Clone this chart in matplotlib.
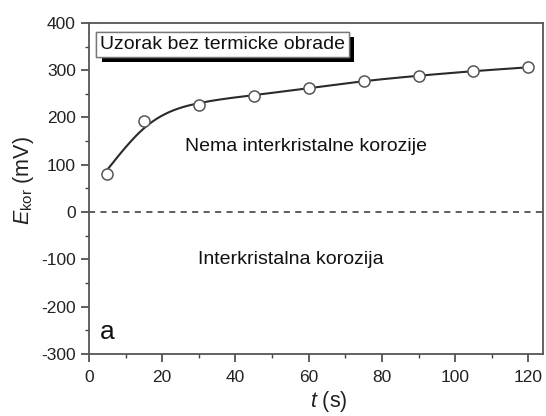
import numpy as np
import matplotlib
matplotlib.use("Agg")
import matplotlib.pyplot as plt
from matplotlib import patheffects as pe

plt.rcParams['font.family'] = ['Liberation Sans', 'DejaVu Sans']
plt.rcParams['axes.unicode_minus'] = False
plt.rcParams['mathtext.fontset'] = 'custom'
plt.rcParams['mathtext.rm'] = 'Liberation Sans'
plt.rcParams['mathtext.it'] = 'Liberation Sans:italic'

t_vals = [5, 15, 30, 45, 60, 75, 90, 105, 120]
e_vals = [80, 192, 226, 246, 262, 277, 288, 298, 306]

box_label = "Uzorak bez termicke obrade"
upper_label = "Nema interkristalne korozije"
lower_label = "Interkristalna korozija"
panel_label = "a"

x = np.array(t_vals, float)
y = np.array(e_vals, float)


def smoothing_spline(xk, yk, lam, num=400):
    n = len(xk)
    h = np.diff(xk)
    Q = np.zeros((n, n - 2))
    R = np.zeros((n - 2, n - 2))
    for j in range(1, n - 1):
        c = j - 1
        Q[j - 1, c] = 1 / h[j - 1]
        Q[j, c] = -1 / h[j - 1] - 1 / h[j]
        Q[j + 1, c] = 1 / h[j]
        R[c, c] = (h[j - 1] + h[j]) / 3
        if c + 1 < n - 2:
            R[c, c + 1] = h[j] / 6
            R[c + 1, c] = h[j] / 6
    K = Q @ np.linalg.solve(R, Q.T)
    g = np.linalg.solve(np.eye(n) + lam * K, yk)
    gam = np.concatenate([[0.0], np.linalg.solve(R, Q.T @ g), [0.0]])
    xs = np.linspace(xk[0], xk[-1], num)
    idx = np.clip(np.searchsorted(xk, xs) - 1, 0, n - 2)
    x0, x1 = xk[idx], xk[idx + 1]
    hh = x1 - x0
    a = xs - x0
    b = x1 - xs
    ys = (a * g[idx + 1] + b * g[idx]) / hh - a * b / 6 * (
        (1 + a / hh) * gam[idx + 1] + (1 + b / hh) * gam[idx])
    return xs, ys


xf, yf = smoothing_spline(x, y, lam=160)

fig = plt.figure(figsize=(5.46, 4.16), dpi=100)
ax = fig.add_axes([0.163, 0.149, 0.8315, 0.796])
col = '#2a2a2a'
ax.plot(xf, yf, color=col, lw=1.5, zorder=2)
ax.plot(x, y, 'o', ms=8, mfc='white', mec='#555555', mew=1.1, zorder=3, linestyle='none')
ax.axhline(0, color='#333333', lw=1.1, ls=(0, (4, 3.5)), zorder=1)

ax.set_xlim(0, 124)
ax.set_ylim(-300, 400)
ax.set_xticks(np.arange(0, 121, 20))
ax.set_xticks(np.arange(10, 121, 20), minor=True)
ax.set_yticks(np.arange(-300, 401, 100))
ax.set_yticks(np.arange(-250, 400, 100), minor=True)
ax.tick_params(which='major', direction='out', length=5.5, width=1.2, colors='#444444',
               labelsize=12.5, labelcolor='#222222', pad=4)
ax.tick_params(axis='x', which='major', pad=6)
ax.tick_params(which='minor', direction='out', length=3, width=1.0, colors='#444444')
for s in ax.spines.values():
    s.set_color('#555555')
    s.set_linewidth(1.3)

ax.set_xlabel(r'$\it{t}$ (s)', fontsize=15.5, color='#222222')
ax.xaxis.set_label_coords(0.528, -0.105)
ax.set_ylabel(r'$E_{\rm kor}$ (mV)', fontsize=15.5, color='#222222')
ax.yaxis.set_label_coords(-0.117, 0.525)

tb = ax.text(3.0, 355, box_label, fontsize=14, color='#111111', va='center', ha='left',
             bbox=dict(boxstyle='square,pad=0.2', fc='white', ec='#777777', lw=1.0))
tb.get_bbox_patch().set_path_effects([pe.withSimplePatchShadow(offset=(4, -4), shadow_rgbFace='black', alpha=1.0), pe.Normal()])

ax.text(59.2, 139.5, upper_label, fontsize=14, color='#111111', ha='center', va='center')
ax.text(55.2, -101, lower_label, fontsize=14, color='#111111', ha='center', va='center')
ax.text(3, -254, panel_label, fontsize=19, color='#111111', ha='left', va='center')

fig.savefig('out.png', dpi=100)
